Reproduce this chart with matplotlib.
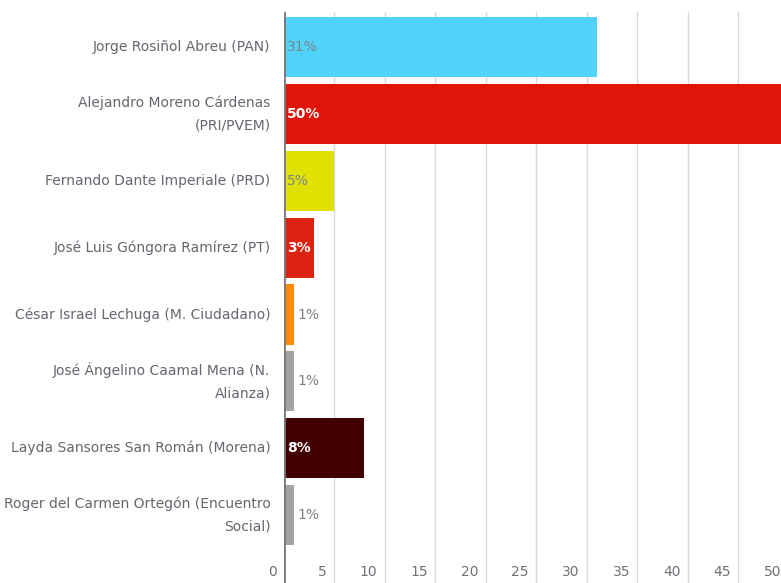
import matplotlib.pyplot as plt
import numpy as np

plt.rcParams['font.family'] = ['Liberation Sans Narrow', 'DejaVu Sans']

candidates = [
    'Jorge Rosiñol Abreu (PAN)',
    'Alejandro Moreno Cárdenas\n(PRI/PVEM)',
    'Fernando Dante Imperiale (PRD)',
    'José Luis Góngora Ramírez (PT)',
    'César Israel Lechuga (M. Ciudadano)',
    'José Ángelino Caamal Mena (N.\nAlianza)',
    'Layda Sansores San Román (Morena)',
    'Roger del Carmen Ortegón (Encuentro\nSocial)',
]
percent = [31, 50, 5, 3, 1, 1, 8, 1]
bar_colors = ['#50D3FA', '#E1140A', '#E1E100', '#DC2210',
              '#FF8A00', '#A3A3A3', '#420000', '#A3A3A3']
label_white = [False, True, False, True, False, False, True, False]
x_ticks = [0, 5, 10, 15, 20, 25, 30, 35, 40, 45, 50]

W, H = 781, 583
fig = plt.figure(figsize=(W / 100, H / 100), dpi=100)
x0 = 283.5
ax = fig.add_axes([x0 / W, 0, (W - x0) / W, (H - 12) / H])

px_per_unit = 10.1
ax.set_xlim(0, (W - x0) / px_per_unit)
pitch = 66.8
c0 = 47.3
ax.set_ylim((H - c0) / pitch, -(c0 - 12) / pitch)

y = np.arange(len(candidates))
ax.barh(y, percent, height=0.9, color=bar_colors, zorder=2)

for yi, v, white in zip(y, percent, label_white):
    if v < 2:
        ax.text(v + 0.4, yi, f'{v}%', va='center', ha='left',
                fontsize=10, color='#808080', zorder=3)
    elif white:
        ax.text(0.35, yi, f'{v}%', va='center', ha='left',
                fontsize=10, color='white', fontweight='bold', zorder=3)
    else:
        ax.text(0.35, yi, f'{v}%', va='center', ha='left',
                fontsize=10, color='#7a8588', zorder=3)

# category labels
for yi, name in zip(y, candidates):
    ax.text(-13 / px_per_unit, yi, name, ha='right', va='center',
            fontsize=10, color='#666670', linespacing=1.75, clip_on=False)

# gridlines and tick labels
for t in x_ticks:
    if t > 0:
        ax.axvline(t, color='#D9D9D9', lw=1, zorder=1)
    ax.text(t - 7 / px_per_unit, 1 - (571.7 - 12) / (H - 12), str(t),
            transform=ax.get_xaxis_transform(), ha='right', va='center',
            fontsize=10, color='#707078', clip_on=False)
ax.axvline(0, color='#7a7a7a', lw=2, zorder=4)

ax.set_xticks([])
ax.set_yticks([])
for s in ax.spines.values():
    s.set_visible(False)

fig.savefig('out.png', dpi=100)
